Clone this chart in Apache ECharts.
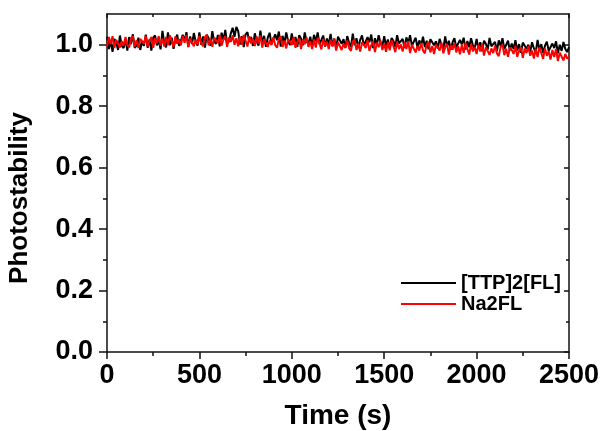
<!DOCTYPE html>
<html>
<head>
<meta charset="utf-8">
<script src="https://cdn.jsdelivr.net/npm/echarts@6/dist/echarts.min.js"></script>
<style>
  html, body { margin: 0; padding: 0; background: #fff; }
  #chart { width: 604px; height: 431px; }
</style>
</head>
<body>
<div id="chart"></div>
<script>
// sampled every 10 s, 0..2500 s
var sampleStep = 10;

var seriesNames = ['[TTP]2[FL]', 'Na2FL'];

var ttpValues = [
  1.026, 0.986, 1.013, 0.977, 1.019, 1.007, 0.983, 1.030, 0.996, 0.989,
  1.018, 0.981, 1.025, 1.002, 1.034, 0.990, 0.997, 1.023, 0.983, 1.012,
  0.996, 1.033, 0.990, 1.017, 0.981, 1.023, 1.030, 0.998, 1.014, 0.985,
  1.045, 1.006, 0.991, 1.040, 0.998, 1.023, 0.987, 1.017, 1.033, 0.996,
  0.996, 1.032, 1.013, 1.041, 0.992, 1.027, 1.002, 1.038, 1.010, 0.997,
  1.040, 1.000, 1.027, 0.991, 1.033, 1.021, 0.997, 1.044, 1.010, 1.003,
  1.032, 0.995, 1.039, 1.016, 1.048, 1.004, 1.011, 1.037, 1.055, 1.026,
  1.058, 1.044, 1.001, 1.028, 0.992, 1.034, 1.041, 1.009, 1.025, 0.996,
  1.037, 1.012, 0.997, 1.046, 1.004, 1.029, 0.993, 1.023, 1.039, 1.002,
  0.998, 1.034, 1.015, 1.043, 0.994, 1.029, 1.004, 1.040, 1.012, 0.999,
  1.037, 1.001, 1.025, 0.993, 1.031, 1.020, 0.998, 1.040, 1.010, 1.003,
  1.026, 0.993, 1.032, 1.011, 1.040, 1.001, 1.007, 1.030, 0.994, 1.020,
  1.001, 1.035, 0.996, 1.020, 0.988, 1.026, 1.032, 1.003, 1.018, 0.991,
  1.028, 1.006, 0.992, 1.036, 0.998, 1.021, 0.989, 1.016, 1.030, 0.997,
  0.993, 1.025, 1.008, 1.033, 0.989, 1.021, 0.998, 1.031, 1.006, 0.994,
  1.028, 0.996, 1.017, 0.988, 1.022, 1.012, 0.993, 1.031, 1.004, 0.998,
  1.019, 0.989, 1.024, 1.006, 1.031, 0.996, 1.002, 1.023, 0.991, 1.014,
  0.997, 1.026, 0.992, 1.013, 0.985, 1.018, 1.024, 0.998, 1.011, 0.988,
  1.019, 0.999, 0.987, 1.027, 0.993, 1.013, 0.984, 1.008, 1.021, 0.991,
  0.987, 1.016, 1.001, 1.023, 0.984, 1.012, 0.992, 1.021, 0.998, 0.988,
  1.019, 0.987, 1.008, 0.979, 1.013, 1.003, 0.984, 1.022, 0.995, 0.989,
  1.009, 0.979, 1.014, 0.996, 1.021, 0.986, 0.992, 1.013, 0.981, 1.004,
  0.986, 1.015, 0.981, 1.002, 0.974, 1.007, 1.013, 0.987, 1.000, 0.977,
  1.008, 0.988, 0.976, 1.016, 0.982, 1.002, 0.973, 0.997, 1.010, 0.980,
  0.975, 1.004, 0.989, 1.011, 0.972, 1.000, 0.980, 1.009, 0.986, 0.976,
  0.992
];

var naValues = [
  0.994, 1.025, 1.002, 1.028, 0.989, 1.016, 1.021, 0.991, 1.012, 0.997,
  1.025, 1.000, 0.991, 1.021, 1.028, 0.994, 1.015, 0.989, 1.019, 1.011,
  1.003, 1.029, 0.994, 1.013, 1.025, 0.990, 1.021, 1.006, 1.028, 0.997,
  1.020, 0.994, 1.025, 0.999, 1.031, 1.012, 0.993, 1.027, 1.003, 1.018,
  0.998, 1.029, 1.006, 1.032, 0.993, 1.020, 1.025, 0.995, 1.016, 1.001,
  1.029, 1.004, 0.995, 1.025, 1.032, 0.998, 1.019, 0.993, 1.023, 1.015,
  1.006, 1.032, 0.997, 1.016, 1.028, 0.993, 1.024, 1.009, 1.031, 1.000,
  1.021, 0.995, 1.026, 1.000, 1.032, 1.013, 0.994, 1.028, 1.004, 1.019,
  0.996, 1.027, 1.004, 1.030, 0.991, 1.018, 1.023, 0.993, 1.014, 0.999,
  1.024, 0.999, 0.990, 1.020, 1.027, 0.993, 1.014, 0.988, 1.018, 1.010,
  0.999, 1.025, 0.990, 1.009, 1.021, 0.986, 1.017, 1.002, 1.024, 0.993,
  1.012, 0.986, 1.017, 0.991, 1.023, 1.004, 0.985, 1.019, 0.995, 1.010,
  0.986, 1.017, 0.994, 1.020, 0.981, 1.008, 1.013, 0.983, 1.004, 0.989,
  1.014, 0.989, 0.980, 1.010, 1.017, 0.983, 1.004, 0.978, 1.008, 1.000,
  0.989, 1.015, 0.980, 0.999, 1.011, 0.976, 1.007, 0.992, 1.014, 0.983,
  1.003, 0.977, 1.008, 0.982, 1.014, 0.995, 0.976, 1.010, 0.986, 1.001,
  0.978, 1.009, 0.986, 1.012, 0.973, 1.000, 1.005, 0.975, 0.996, 0.981,
  1.006, 0.981, 0.972, 1.002, 1.009, 0.975, 0.996, 0.970, 1.000, 0.992,
  0.981, 1.007, 0.972, 0.991, 1.003, 0.968, 0.999, 0.984, 1.006, 0.975,
  0.995, 0.969, 1.000, 0.974, 1.006, 0.987, 0.968, 1.002, 0.978, 0.993,
  0.970, 1.001, 0.978, 1.004, 0.965, 0.992, 0.997, 0.967, 0.988, 0.973,
  0.997, 0.972, 0.963, 0.993, 1.000, 0.966, 0.987, 0.961, 0.991, 0.983,
  0.970, 0.996, 0.961, 0.980, 0.992, 0.957, 0.988, 0.973, 0.995, 0.964,
  0.981, 0.955, 0.986, 0.960, 0.992, 0.973, 0.954, 0.988, 0.964, 0.979,
  0.952, 0.983, 0.960, 0.986, 0.947, 0.974, 0.979, 0.949, 0.970, 0.955,
  0.960
];

var yMajorTicks = [0, 0.2, 0.4, 0.6, 0.8, 1.0];
var yMinorTicks = [0.1, 0.3, 0.5, 0.7, 0.9];

var font = 'Liberation Sans, Arial, sans-serif';
var axisColor = '#111';

function toPairs(values) {
  var out = [];
  for (var i = 0; i < values.length; i++) {
    out.push([i * sampleStep, values[i]]);
  }
  return out;
}

function yAxisDef(pos, ticks, len, withLabels, withLine) {
  return {
    type: 'value',
    position: pos,
    min: 0,
    max: 1.1,
    interval: 0.1,
    splitLine: { show: false },
    axisLine: { show: withLine, onZero: false, lineStyle: { color: axisColor, width: 1.5 } },
    axisTick: {
      show: true,
      inside: pos === 'right',
      length: len,
      customValues: ticks,
      lineStyle: { color: axisColor, width: 1.5 }
    },
    axisLabel: {
      show: withLabels,
      customValues: ticks,
      margin: 14,
      fontFamily: font,
      fontWeight: 'bold',
      fontSize: 27,
      color: '#000',
      formatter: function (v) { return v.toFixed(1); }
    }
  };
}

var chart = echarts.init(document.getElementById('chart'));

var option = {
  animation: false,
  backgroundColor: '#fff',
  grid: { left: 107, right: 35, top: 14, bottom: 79, outerBoundsMode: 'none', containLabel: false },
  legend: {
    orient: 'vertical',
    left: 396,
    top: 268,
    itemWidth: 55,
    itemHeight: 2,
    itemGap: 1,
    icon: 'rect',
    data: seriesNames,
    textStyle: { fontFamily: font, fontWeight: 'bold', fontSize: 20, lineHeight: 20, color: '#000' }
  },
  xAxis: [
    {
      type: 'value',
      position: 'bottom',
      min: 0,
      max: 2500,
      interval: 500,
      name: 'Time (s)',
      nameLocation: 'middle',
      nameGap: 50,
      nameTextStyle: { fontFamily: font, fontWeight: 'bold', fontSize: 28, color: '#000' },
      splitLine: { show: false },
      axisLine: { onZero: false, lineStyle: { color: axisColor, width: 1.5 } },
      axisTick: { length: 7, lineStyle: { color: axisColor, width: 1.5 } },
      minorTick: { show: true, splitNumber: 2, length: 4, lineStyle: { color: axisColor, width: 1.5 } },
      axisLabel: {
        margin: 10, fontFamily: font, fontWeight: 'bold', fontSize: 27, color: '#000',
        formatter: function (v) { return String(v); }
      }
    },
    {
      type: 'value',
      position: 'top',
      min: 0,
      max: 2500,
      interval: 500,
      splitLine: { show: false },
      axisLine: { onZero: false, lineStyle: { color: axisColor, width: 1.5 } },
      axisTick: { inside: true, length: 4, lineStyle: { color: axisColor, width: 1.5 } },
      minorTick: { show: true, splitNumber: 2, length: 3, lineStyle: { color: axisColor, width: 1.5 } },
      axisLabel: { show: false }
    }
  ],
  yAxis: [
    Object.assign(yAxisDef('left', yMajorTicks, 8, true, true), {
      name: 'Photostability',
      nameLocation: 'middle',
      nameGap: 74,
      nameTextStyle: { fontFamily: font, fontWeight: 'bold', fontSize: 26, color: '#000', padding: [0, 30, 0, 0] }
    }),
    yAxisDef('left', yMinorTicks, 4, false, false),
    yAxisDef('right', yMajorTicks, 5, false, true),
    yAxisDef('right', yMinorTicks, 3, false, false)
  ],
  series: [
    {
      name: seriesNames[0],
      type: 'line',
      xAxisIndex: 0,
      yAxisIndex: 0,
      showSymbol: false,
      symbol: 'none',
      lineStyle: { color: '#000', width: 2 },
      itemStyle: { color: '#000' },
      data: toPairs(ttpValues)
    },
    {
      name: seriesNames[1],
      type: 'line',
      xAxisIndex: 0,
      yAxisIndex: 0,
      showSymbol: false,
      symbol: 'none',
      lineStyle: { color: '#ff0000', width: 2 },
      itemStyle: { color: '#ff0000' },
      data: toPairs(naValues)
    }
  ]
};

chart.setOption(option);
</script>
</body>
</html>
